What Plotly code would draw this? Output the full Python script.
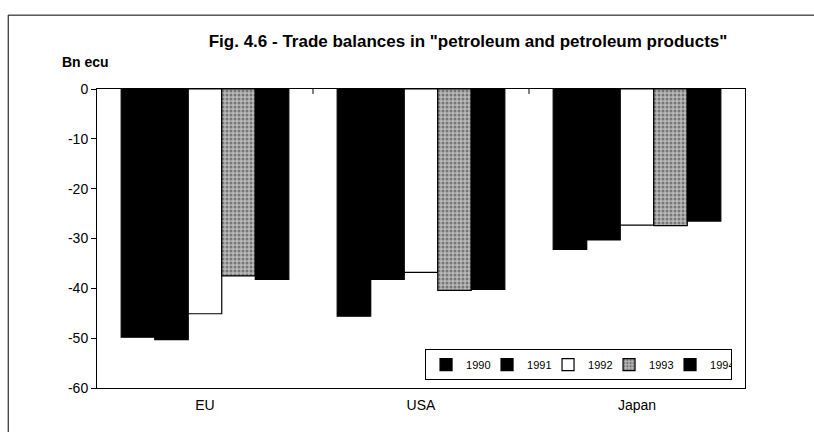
import plotly.graph_objects as go

categories = ["EU", "USA", "Japan"]
years = ["1990", "1991", "1992", "1993", "1994"]
v1990 = [-49.8, -45.6, -32.2]
v1991 = [-50.3, -38.2, -30.3]
v1992 = [-45.1, -36.8, -27.3]
v1993 = [-37.5, -40.4, -27.4]
v1994 = [-38.2, -40.2, -26.5]
series = [v1990, v1991, v1992, v1993, v1994]
yticks = [0, -10, -20, -30, -40, -50, -60]

FONT = "Liberation Sans, Arial, sans-serif"

styles = [
    dict(color="black"),
    dict(color="black"),
    dict(color="white"),
    dict(color="#b8b8b8", pattern=dict(shape=".", fgcolor="#333333", size=4, solidity=0.45)),
    dict(color="black"),
]

fig = go.Figure()
for yr, vals, st in zip(years, series, styles):
    fig.add_trace(go.Bar(
        x=categories, y=vals, name=yr,
        marker=dict(**st, line=dict(color="black", width=1.2)),
    ))

# category boundary ticks on the zero line
shapes = []
for i in range(len(categories) - 1):
    shapes.append(dict(type="line", xref="x", yref="y", x0=i + 0.5, x1=i + 0.5,
                       y0=1, y1=-1, line=dict(color="black", width=1)))
# outer frame (partial, as in scan)
shapes.append(dict(type="line", xref="paper", yref="paper", x0=-0.137, x1=1.12, y0=1.247, y1=1.247,
                   line=dict(color="black", width=1)))
shapes.append(dict(type="line", xref="paper", yref="paper", x0=-0.137, x1=-0.137, y0=1.247, y1=-0.15,
                   line=dict(color="black", width=1)))

fig.update_layout(
    width=814, height=432,
    margin=dict(l=97, r=69, t=89, b=44),
    paper_bgcolor="white", plot_bgcolor="white",
    barmode="group", bargap=0.224, bargroupgap=0,
    font=dict(family=FONT, size=14, color="black"),
    title=dict(text='<b>Fig. 4.6 - Trade balances in "petroleum and petroleum products"</b>',
               xref="container", x=0.575, xanchor="center",
               yref="container", y=0.905, yanchor="middle",
               font=dict(family=FONT, size=17, color="black")),
    xaxis=dict(showline=True, linecolor="black", linewidth=1, mirror=True,
               ticks="", showgrid=False, tickfont=dict(size=14), ticklabelstandoff=4),
    yaxis=dict(range=[-60, 0], tickvals=yticks, ticktext=[str(t) for t in yticks],
               showline=True, linecolor="black", linewidth=1, mirror=True,
               ticks="outside", ticklen=5, tickcolor="black", showgrid=False,
               zeroline=False, tickfont=dict(size=14)),
    legend=dict(orientation="h", x=0.98, xanchor="right", y=0.13, yanchor="top",
                bordercolor="black", borderwidth=1, bgcolor="white",
                font=dict(size=11, color="black"), itemwidth=30, traceorder="normal",
                entrywidth=16, entrywidthmode="pixels"),
    shapes=shapes,
    annotations=[dict(text="<b>Bn ecu</b>", xref="paper", yref="paper",
                      x=-0.057, y=1.09, xanchor="left", yanchor="middle",
                      showarrow=False, font=dict(size=14))],
)

fig.write_html("out.html", config={"displayModeBar": False},
               post_script="document.body.style.margin='0';")
